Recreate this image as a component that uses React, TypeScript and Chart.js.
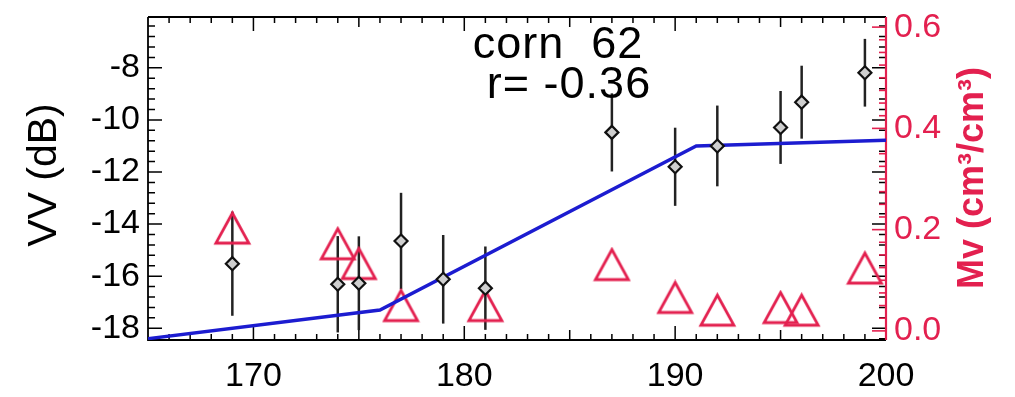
import React, { useEffect, useRef } from "react";
import { Chart, registerables } from "chart.js";

Chart.register(...registerables);

// ---- data ----
const vvDays = [169, 174, 175, 177, 179, 181, 187, 190, 192, 195, 196, 199];
const vvValues = [-15.52, -16.31, -16.27, -14.65, -16.12, -16.46, -10.48, -11.8, -11.0, -10.29, -9.32, -8.19];
const vvErrors = [2.0, 1.85, 1.8, 1.85, 1.7, 1.6, 1.5, 1.5, 1.55, 1.4, 1.4, 1.3];

const mvDays = [169, 174, 175, 177, 181, 187, 190, 192, 195, 196, 199];
const mvValues = [0.203, 0.172, 0.133, 0.05, 0.05, 0.131, 0.066, 0.041, 0.046, 0.041, 0.124];

const modelDays = [165, 176, 191, 200];
const modelValues = [-18.4, -17.3, -11.0, -10.78];

const xTicks = [170, 180, 190, 200];
const vvTicks = [-18, -16, -14, -12, -10, -8];
const mvTicks = [0.0, 0.2, 0.4, 0.6];

const titleLine1 = "corn  62";
const titleLine2 = "r= -0.36";
const vvLabel = "VV (dB)";
const mvLabel = "Mv (cm³/cm³)";

const RED = "#e3204f";
const BLUE = "#1c1cd0";
const FONT = "'Liberation Sans', Arial, Helvetica, sans-serif";

function makeTriangle(): HTMLCanvasElement {
  const w = 33;
  const h = 30;
  const pad = 3;
  const c = document.createElement("canvas");
  c.width = w + pad * 2;
  c.height = h + pad * 2;
  const ctx = c.getContext("2d")!;
  ctx.strokeStyle = RED;
  ctx.lineWidth = 2.8;
  ctx.lineJoin = "miter";
  ctx.beginPath();
  ctx.moveTo(pad + w / 2, pad);
  ctx.lineTo(pad + w, pad + h);
  ctx.lineTo(pad, pad + h);
  ctx.closePath();
  ctx.stroke();
  return c;
}

const zeroPad = (s: any) => {
  s.paddingTop = 0;
  s.paddingBottom = 0;
  s.paddingLeft = 0;
  s.paddingRight = 0;
};

const framePlugin = {
  id: "idlFrame",
  beforeDatasetsDraw(chart: any) {
    const { ctx, chartArea: a, scales } = chart;
    const x = scales.x;
    const y = scales.y;
    const y1 = scales.y1;
    ctx.save();
    // error bars
    ctx.strokeStyle = "#222";
    ctx.lineWidth = 2.5;
    vvDays.forEach((d, i) => {
      const px = x.getPixelForValue(d);
      const top = y.getPixelForValue(vvValues[i] + vvErrors[i]);
      const bot = y.getPixelForValue(vvValues[i] - vvErrors[i]);
      ctx.beginPath();
      ctx.moveTo(px, Math.max(top, a.top));
      ctx.lineTo(px, Math.min(bot, a.bottom));
      ctx.stroke();
    });

    // frame
    ctx.lineWidth = 1.8;
    ctx.strokeStyle = "#000";
    ctx.beginPath();
    ctx.moveTo(a.left, a.top);
    ctx.lineTo(a.right, a.top);
    ctx.moveTo(a.left, a.top);
    ctx.lineTo(a.left, a.bottom);
    ctx.lineTo(a.right, a.bottom);
    ctx.stroke();

    ctx.lineWidth = 1.5;
    // x ticks (bottom and top), minor every 1
    for (let v = 166; v <= 199; v += 1) {
      const px = x.getPixelForValue(v);
      const major = v % 10 === 0;
      const len = major ? 14 : v % 5 === 0 ? 10 : 6;
      ctx.beginPath();
      ctx.moveTo(px, a.bottom);
      ctx.lineTo(px, a.bottom - len);
      ctx.moveTo(px, a.top);
      ctx.lineTo(px, a.top + len);
      ctx.stroke();
    }
    // left y ticks (and mirrored on right)
    for (let k = 0; k <= 40; k++) {
      const v = -18.4 + k * 0.4;
      if (v > -6.05) break;
      const py = y.getPixelForValue(v);
      const major = Math.abs(Math.round(v) - v) < 1e-6 && Math.round(v) % 2 === 0;
      const len = major ? 14 : 7;
      ctx.beginPath();
      ctx.moveTo(a.left, py);
      ctx.lineTo(a.left + len, py);
      ctx.moveTo(a.right, py);
      ctx.lineTo(a.right - len, py);
      ctx.stroke();
    }
    // right red axis
    ctx.strokeStyle = RED;
    ctx.lineWidth = 2.2;
    ctx.beginPath();
    ctx.moveTo(a.right, a.top);
    ctx.lineTo(a.right, a.bottom);
    ctx.stroke();
    ctx.lineWidth = 1.6;
    for (let k = 0; k <= 30; k++) {
      const v = k * 0.025;
      if (v > 0.62) break;
      const py = y1.getPixelForValue(v);
      const major = k % 8 === 0;
      const len = major ? 14 : 7;
      ctx.beginPath();
      ctx.moveTo(a.right, py);
      ctx.lineTo(a.right - len, py);
      ctx.stroke();
    }
    ctx.restore();
  },
  afterDraw(chart: any) {
    const { ctx } = chart;
    ctx.save();
    // annotation text
    ctx.fillStyle = "#000";
    ctx.font = `45px ${FONT}`;
    ctx.textAlign = "center";
    ctx.textBaseline = "alphabetic";
    (ctx as any).letterSpacing = "1px";
    ctx.fillText(titleLine1, 558, 58);
    ctx.fillText(titleLine2, 569, 98);
    (ctx as any).letterSpacing = "0px";

    // left axis title
    ctx.font = `41px ${FONT}`;
    ctx.translate(45, 175);
    ctx.rotate(-Math.PI / 2);
    ctx.textBaseline = "middle";
    ctx.fillText(vvLabel, 0, 0);
    ctx.restore();

    ctx.save();
    ctx.fillStyle = RED;
    ctx.font = `bold 36px ${FONT}`;
    ctx.textAlign = "center";
    ctx.textBaseline = "middle";
    ctx.translate(973, 178);
    ctx.rotate(-Math.PI / 2);
    ctx.fillText(mvLabel, 0, 0);
    ctx.restore();
  },
};

export default function App() {
  const ref = useRef<HTMLCanvasElement | null>(null);

  useEffect(() => {
    if (!ref.current) return;
    const tri = makeTriangle();
    const tickFont = { family: FONT, size: 34 };
    const chart = new Chart(ref.current, {
      type: "scatter",
      data: {
        datasets: [
          {
            label: "VV",
            data: vvDays.map((d, i) => ({ x: d, y: vvValues[i] })),
            yAxisID: "y",
            pointStyle: "rectRot",
            pointRadius: 6.5,
            borderColor: "#111",
            borderWidth: 2.2,
            backgroundColor: "#cfcfcf",
            showLine: false,
          },
          {
            label: "model",
            data: modelDays.map((d, i) => ({ x: d, y: modelValues[i] })),
            yAxisID: "y",
            showLine: true,
            borderColor: BLUE,
            borderWidth: 3.4,
            pointRadius: 0,
            fill: false,
          },
          {
            label: "Mv",
            data: mvDays.map((d, i) => ({ x: d, y: mvValues[i] })),
            yAxisID: "y1",
            pointStyle: tri as any,
            pointRadius: 16,
            showLine: false,
          },
        ],
      },
      options: {
        animation: false,
        responsive: false,
        devicePixelRatio: 1,
        layout: { padding: { top: 10, left: 0, right: 0, bottom: 0 } },
        plugins: { legend: { display: false }, tooltip: { enabled: false } },
        scales: {
          x: {
            type: "linear",
            position: "bottom",
            min: 165,
            max: 200,
            grid: { display: false, drawTicks: false },
            border: { display: false },
            ticks: { font: tickFont, color: "#000", padding: 16, maxRotation: 0, autoSkip: false },
            afterBuildTicks: (s: any) => {
              s.ticks = xTicks.map((v) => ({ value: v }));
            },
            afterFit: (s: any) => {
              s.height = 57;
              zeroPad(s);
            },
          },
          y: {
            type: "linear",
            position: "left",
            min: -18.45,
            max: -6.05,
            grid: { display: false, drawTicks: false },
            border: { display: false },
            ticks: { font: tickFont, color: "#000", padding: 8, autoSkip: false },
            afterBuildTicks: (s: any) => {
              s.ticks = vvTicks.map((v) => ({ value: v }));
            },
            afterFit: (s: any) => {
              s.width = 148;
              zeroPad(s);
            },
          },
          y1: {
            type: "linear",
            position: "right",
            min: -0.018,
            max: 0.62,
            grid: { display: false, drawTicks: false },
            border: { display: false },
            ticks: {
              font: tickFont,
              color: RED,
              padding: 8,
              autoSkip: false,
              callback: (v: any) => Number(v).toFixed(1),
            },
            afterBuildTicks: (s: any) => {
              s.ticks = mvTicks.map((v) => ({ value: v }));
            },
            afterFit: (s: any) => {
              s.width = 129;
              zeroPad(s);
            },
          },
        },
      },
      plugins: [framePlugin],
    });
    return () => chart.destroy();
  }, []);

  return (
    <div style={{ position: "fixed", left: 0, top: 0, width: 1015, height: 397, background: "#fff" }}>
      <canvas ref={ref} width={1015} height={397} style={{ width: 1015, height: 397, display: "block" }} />
    </div>
  );
}
